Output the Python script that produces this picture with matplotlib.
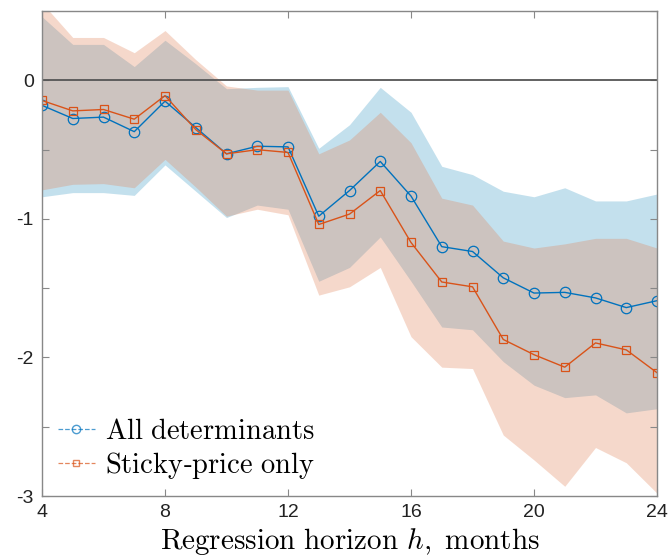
import numpy as np
import matplotlib
matplotlib.use("Agg")
import matplotlib.pyplot as plt
from matplotlib.lines import Line2D

plt.rcParams['font.family'] = ['Liberation Sans', 'DejaVu Sans']
plt.rcParams['mathtext.fontset'] = 'cm'
plt.rcParams['axes.unicode_minus'] = False

# horizons
h = np.arange(4, 25)

# all determinants
all_mid = [-0.18, -0.275, -0.265, -0.37, -0.15, -0.34, -0.53, -0.475, -0.48, -0.98, -0.795,
           -0.585, -0.835, -1.2, -1.235, -1.425, -1.535, -1.53, -1.57, -1.64, -1.59]
all_hi = [0.46, 0.26, 0.26, 0.10, 0.29, 0.12, -0.06, -0.05, -0.045, -0.49, -0.32,
          -0.05, -0.23, -0.62, -0.68, -0.80, -0.84, -0.775, -0.87, -0.87, -0.82]
all_lo = [-0.84, -0.81, -0.81, -0.83, -0.61, -0.80, -0.99, -0.90, -0.93, -1.45, -1.35,
          -1.13, -1.45, -1.78, -1.80, -2.03, -2.20, -2.29, -2.27, -2.40, -2.37]

# sticky-price only
sp_mid = [-0.145, -0.22, -0.21, -0.28, -0.11, -0.355, -0.53, -0.50, -0.52, -1.04, -0.965,
          -0.795, -1.17, -1.455, -1.49, -1.87, -1.98, -2.07, -1.895, -1.945, -2.11]
sp_hi = [0.56, 0.31, 0.31, 0.20, 0.36, 0.15, -0.04, -0.07, -0.07, -0.53, -0.43,
         -0.23, -0.45, -0.85, -0.90, -1.16, -1.21, -1.18, -1.14, -1.14, -1.21]
sp_lo = [-0.79, -0.75, -0.745, -0.775, -0.57, -0.77, -0.98, -0.93, -0.97, -1.55, -1.49,
         -1.35, -1.85, -2.07, -2.08, -2.56, -2.74, -2.93, -2.65, -2.76, -2.98]

blue = '#0072BD'
orange = '#D95319'

fig = plt.figure(figsize=(6.72, 5.57), dpi=100)
ax = fig.add_axes([0.0625, 0.1095, 0.9152, 0.8705])

ax.fill_between(h, all_lo, all_hi, color=(0.233, 0.6, 0.767), alpha=0.3, lw=0)
ax.fill_between(h, sp_lo, sp_hi, color=(0.883, 0.5, 0.333), alpha=0.3, lw=0)
ax.axhline(0, color='#555555', lw=1.3)

ax.plot(h, all_mid, color=blue, lw=1.0, marker='o', ms=7.5, mfc='none', mew=0.9)
ax.plot(h, sp_mid, color=orange, lw=1.0, marker='s', ms=5.5, mfc='none', mew=0.9)

ax.set_xlim(4, 24)
ax.set_ylim(-3, 0.5)
ax.set_xticks([4, 8, 12, 16, 20, 24])
yt = np.arange(-3, 0.51, 0.5)
ax.set_yticks(yt)
ax.set_yticklabels(['%d' % v if v == int(v) else '' for v in yt])
ax.tick_params(direction='in', top=True, right=True, length=5, width=0.8,
               color='#888888', labelsize=14, labelcolor='#222222', pad=6)
for s in ax.spines.values():
    s.set_color('#888888')
    s.set_linewidth(1.0)

ax.set_xlabel(r'$\mathrm{Regression\ horizon}\ h\mathrm{,\ months}$', fontsize=21, labelpad=3)

handles = [Line2D([], [], color=blue, ls='--', lw=0.9, marker='o', ms=6, mfc='none', alpha=0.7),
           Line2D([], [], color=orange, ls='--', lw=0.9, marker='s', ms=5, mfc='none', alpha=0.7)]
ax.legend(handles, [r'$\mathrm{All\ determinants}$', r'$\mathrm{Sticky}$-$\mathrm{price\ only}$'],
          loc='lower left', frameon=False, fontsize=20.5, handlelength=1.3,
          borderaxespad=0, borderpad=0, handletextpad=0.35, labelspacing=0.2,
          bbox_to_anchor=(0.026, 0.03))

fig.savefig('out.png', dpi=100)
